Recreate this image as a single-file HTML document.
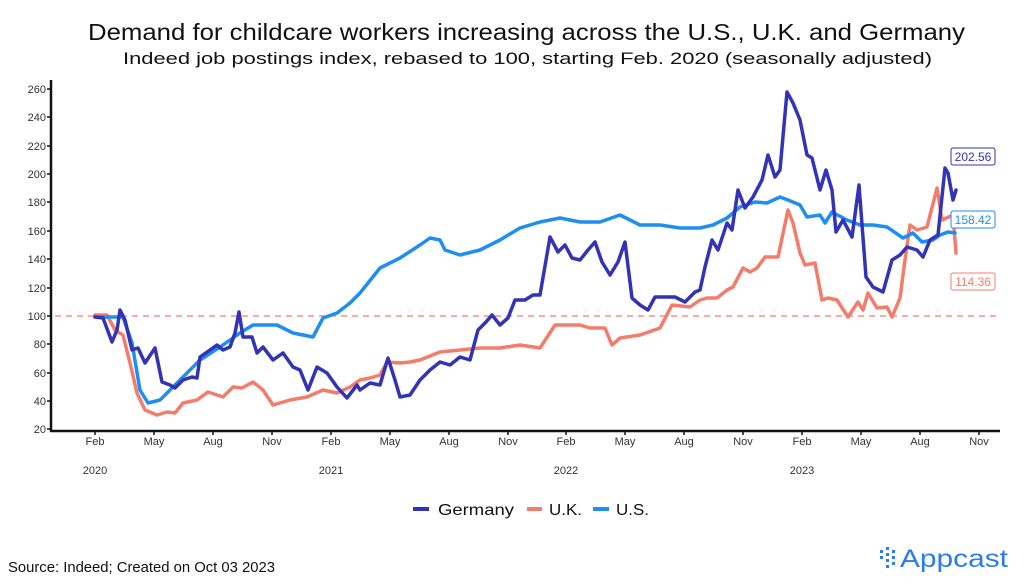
<!DOCTYPE html>
<html><head><meta charset="utf-8"><style>
html,body{margin:0;padding:0;background:#fff;width:1024px;height:582px;overflow:hidden}
svg{display:block}
text{font-family:"Liberation Sans",sans-serif}
</style></head><body>
<svg width="1024" height="582" viewBox="0 0 1024 582">
<text x="88" y="40" font-size="23" fill="#111" textLength="877" lengthAdjust="spacingAndGlyphs">Demand for childcare workers increasing across the U.S., U.K. and Germany</text>
<text x="123" y="64" font-size="17" fill="#111" textLength="809" lengthAdjust="spacingAndGlyphs">Indeed job postings index, rebased to 100, starting Feb. 2020 (seasonally adjusted)</text>
<g font-size="11" fill="#333" text-anchor="end">
<text x="46" y="93">260</text><text x="46" y="121">240</text><text x="46" y="150">220</text><text x="46" y="178">200</text><text x="46" y="206">180</text><text x="46" y="235">160</text><text x="46" y="263">140</text><text x="46" y="292">120</text><text x="46" y="320">100</text><text x="46" y="348">80</text><text x="46" y="377">60</text><text x="46" y="405">40</text><text x="46" y="433">20</text>
</g>
<g stroke="#111" stroke-width="1.5">
<path d="M47 89H51M47 117H51M47 146H51M47 174H51M47 202H51M47 231H51M47 259H51M47 288H51M47 316H51M47 344H51M47 373H51M47 401H51M47 429H51"/>
<path d="M95 431v4M154 431v4M213 431v4M272 431v4M331 431v4M390 431v4M449 431v4M508 431v4M566 431v4M625 431v4M684 431v4M743 431v4M802 431v4M861 431v4M920 431v4M979 431v4"/>
</g>
<path d="M51 80V432M50 431H1000" stroke="#111" stroke-width="2.5" fill="none"/>
<g font-size="11" fill="#333" text-anchor="middle">
<text x="95" y="445">Feb</text><text x="154" y="445">May</text><text x="213" y="445">Aug</text><text x="272" y="445">Nov</text><text x="331" y="445">Feb</text><text x="390" y="445">May</text><text x="449" y="445">Aug</text><text x="508" y="445">Nov</text><text x="566" y="445">Feb</text><text x="625" y="445">May</text><text x="684" y="445">Aug</text><text x="743" y="445">Nov</text><text x="802" y="445">Feb</text><text x="861" y="445">May</text><text x="920" y="445">Aug</text><text x="979" y="445">Nov</text>
<text x="95" y="474">2020</text><text x="331" y="474">2021</text><text x="566" y="474">2022</text><text x="802" y="474">2023</text>
</g>
<path d="M55 316H1000" stroke="#f47c6b" stroke-width="1.3" stroke-dasharray="6,5" fill="none"/>
<g fill="none" stroke-width="3.5" stroke-linejoin="round" stroke-linecap="round">
<polyline stroke="#f47c6b" points="95,315 100,315 107,315 115,330 123,335 130,363 137,393 145,410 157,415 167,412 175,413 183,403 197,400 208,392 223,397 233,387 242,388 253,382 263,390 273,405 290,400 307,397 323,390 337,393 350,387 360,380 370,378 380,375 387,362 400,363 410,362 420,360 440,352 460,350 480,348 500,348 520,345 540,348 555,325 570,325 580,325 590,328 605,328 612,345 620,338 640,335 660,328 672,305 690,307 700,300 707,298 717,298 727,290 733,287 743,268 750,272 757,268 765,257 778,257 788,210 793,223 800,253 805,265 815,263 822,300 828,298 837,300 848,317 858,302 863,310 868,293 877,308 887,307 892,317 900,298 905,260 910,225 917,230 927,227 937,188 942,220 953,215 956,253"/>
<polyline stroke="#1f8ef1" points="95,317 123,317 132,343 140,390 148,403 160,400 177,383 200,360 220,347 240,333 253,325 277,325 293,333 313,337 323,318 337,313 350,303 360,293 380,268 400,258 420,245 430,238 440,240 445,250 460,255 480,250 500,240 520,228 540,222 560,218 580,222 600,222 620,215 640,225 660,225 680,228 700,228 713,225 727,218 740,207 755,202 767,203 780,197 788,200 800,205 807,217 820,215 825,223 832,212 847,220 860,225 873,225 887,227 903,238 913,233 922,242 933,240 940,235 948,232 955,233"/>
<polyline stroke="#3333b5" points="95,317 103,318 112,342 117,330 120,310 125,320 132,350 138,348 145,363 155,348 162,382 170,385 175,388 183,380 192,377 197,378 200,357 210,350 217,345 223,350 230,347 235,333 239,312 243,337 252,337 257,353 263,347 273,360 283,353 293,367 300,370 308,390 317,367 327,373 337,387 347,398 357,385 360,390 370,383 380,385 388,358 395,380 400,397 410,395 420,380 430,370 440,362 450,365 460,357 470,360 478,330 486,322 492,315 500,325 508,318 515,300 525,300 533,295 540,295 550,237 558,252 565,245 572,258 580,260 588,250 595,242 602,262 610,275 618,262 625,242 632,298 640,305 648,310 655,297 665,297 675,297 685,302 695,292 700,290 705,267 712,240 718,250 727,223 732,230 738,190 745,208 753,197 762,180 768,155 775,177 780,170 787,92 793,103 800,120 807,155 812,158 820,190 826,170 832,190 836,232 843,220 852,237 859,185 866,277 873,287 883,292 892,260 900,255 907,247 917,250 923,257 930,240 938,235 945,168 948,173 953,200 956,190"/>
</g>
<g font-size="12" text-anchor="middle">
<rect x="951" y="148" width="44" height="17" rx="2" fill="#fff" stroke="#3333b5"/><text x="973" y="161" fill="#3333b5">202.56</text>
<rect x="951" y="211" width="44" height="17" rx="2" fill="#fff" stroke="#1f8ef1"/><text x="973" y="224" fill="#1f8ef1">158.42</text>
<rect x="951" y="273" width="44" height="17" rx="2" fill="#fff" stroke="#f47c6b"/><text x="973" y="286" fill="#f47c6b">114.36</text>
</g>
<g stroke-width="4">
<path d="M413 509H429" stroke="#3333b5"/><path d="M527 509H542" stroke="#f47c6b"/><path d="M593 509H609" stroke="#1f8ef1"/>
</g>
<g font-size="16" fill="#111">
<text x="438" y="515" textLength="76" lengthAdjust="spacingAndGlyphs">Germany</text><text x="549" y="515" textLength="33" lengthAdjust="spacingAndGlyphs">U.K.</text><text x="616" y="515" textLength="33" lengthAdjust="spacingAndGlyphs">U.S.</text>
</g>
<text x="8" y="572" font-size="14.5" fill="#111" textLength="267" lengthAdjust="spacingAndGlyphs">Source: Indeed; Created on Oct 03 2023</text>
<g fill="#2b7de9">
<rect x="880" y="550" width="3" height="3"/><rect x="880" y="556" width="3" height="3"/>
<rect x="886" y="547" width="3" height="3"/><rect x="886" y="553" width="3" height="3"/><rect x="886" y="559" width="3" height="3"/><rect x="886" y="565" width="3" height="3"/>
<rect x="892" y="550" width="3" height="3"/><rect x="892" y="556" width="3" height="3"/><rect x="892" y="562" width="3" height="3"/>
<text x="900" y="567" font-size="25" textLength="108" lengthAdjust="spacingAndGlyphs">Appcast</text>
</g>
</svg>
</body></html>
